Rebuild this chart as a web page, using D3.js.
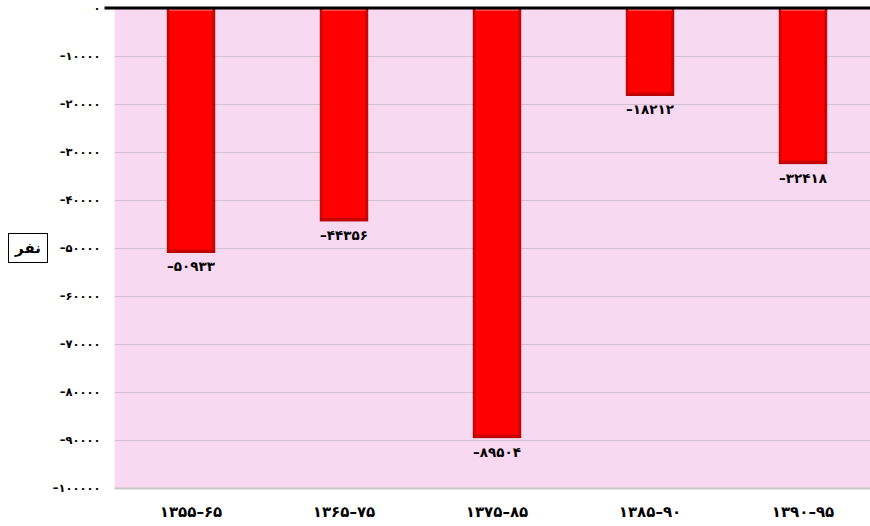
<!DOCTYPE html>
<html>
<head>
<meta charset="utf-8">
<script src="https://cdn.jsdelivr.net/npm/d3@7/dist/d3.min.js"></script>
<style>
  html, body { margin: 0; padding: 0; background: #ffffff; }
  svg { display: block; }
</style>
</head>
<body>
<svg id="chart" width="870" height="526"></svg>
<script>
// Periods and net change (persons) for each period
const periods = ["۱۳۵۵–۶۵", "۱۳۶۵–۷۵", "۱۳۷۵–۸۵", "۱۳۸۵–۹۰", "۱۳۹۰–۹۵"];
const values = [-50933, -44356, -89504, -18212, -32418];
const yTicks = [0, -10000, -20000, -30000, -40000, -50000, -60000, -70000, -80000, -90000, -100000];
const yTitle = "نفر";

const faDigits = "۰۱۲۳۴۵۶۷۸۹";
const toFa = s => String(s).replace(/[0-9]/g, d => faDigits[+d]);
const fmt = v => (v < 0 ? "–" : "") + toFa(Math.abs(v));

const svg = d3.select("#chart");
const font = "'DejaVu Sans', sans-serif";

const plot = { left: 114.5, right: 879.5, top: 8, bottom: 488 };

const x = d3.scaleBand()
  .domain(periods)
  .range([plot.left, plot.right])
  .paddingInner(0.69)
  .paddingOuter(0.345);

const y = d3.scaleLinear()
  .domain([0, -100000])
  .range([plot.top, plot.bottom]);

// plot background
svg.append("rect")
  .attr("x", plot.left).attr("y", plot.top)
  .attr("width", plot.right - plot.left).attr("height", plot.bottom - plot.top)
  .attr("fill", "#f7d9f1");

// horizontal gridlines
svg.append("g")
  .selectAll("line")
  .data(yTicks.filter(t => t !== 0))
  .join("line")
  .attr("x1", plot.left).attr("x2", plot.right)
  .attr("y1", d => y(d) + 0.5).attr("y2", d => y(d) + 0.5)
  .attr("stroke", d => d === -100000 ? "#c8c8c8" : "#d2bfd0")
  .attr("stroke-width", d => d === -100000 ? 2 : 1);

// y axis tick labels
const yAxis = d3.axisLeft(y)
  .tickValues(yTicks)
  .tickSize(0)
  .tickPadding(0)
  .tickFormat(fmt);
const ga = svg.append("g")
  .attr("transform", `translate(${plot.left - 14},0)`)
  .call(yAxis);
ga.select(".domain").remove();
ga.selectAll("text")
  .attr("font-family", font)
  .attr("font-size", 11.5)
  .attr("font-weight", "bold")
  .attr("fill", "#000")
  .attr("direction", "ltr");

// bars
const barG = svg.append("g");
const bars = barG.selectAll("g.bar")
  .data(values.map((v, i) => ({ p: periods[i], v })))
  .join("g")
  .attr("class", "bar");

bars.append("rect")
  .attr("x", d => x(d.p))
  .attr("y", y(0))
  .attr("width", x.bandwidth())
  .attr("height", d => y(d.v) - y(0))
  .attr("fill", "#ff0000")
  .attr("stroke", "#9e0000")
  .attr("stroke-width", 1);

// bevel: dark side and bottom edges, light top edge
bars.append("rect")
  .attr("x", d => x(d.p) + 0.5)
  .attr("y", d => y(d.v) - 3)
  .attr("width", x.bandwidth() - 1)
  .attr("height", 3)
  .attr("fill", "#c80000");
bars.append("rect")
  .attr("x", d => x(d.p) + x.bandwidth() - 2.5)
  .attr("y", y(0))
  .attr("width", 2)
  .attr("height", d => y(d.v) - y(0) - 3)
  .attr("fill", "#d40000");
bars.append("rect")
  .attr("x", d => x(d.p) + 0.5)
  .attr("y", y(0))
  .attr("width", 1.5)
  .attr("height", d => y(d.v) - y(0) - 3)
  .attr("fill", "#d80000");
bars.append("rect")
  .attr("x", d => x(d.p) + 2)
  .attr("y", y(0) + 1)
  .attr("width", x.bandwidth() - 4)
  .attr("height", 2)
  .attr("fill", "#ff5050");

// value labels under each bar
bars.append("text")
  .attr("x", d => x(d.p) + x.bandwidth() / 2)
  .attr("y", d => y(d.v) + 19)
  .attr("text-anchor", "middle")
  .attr("direction", "ltr")
  .attr("font-family", font)
  .attr("font-size", 13.5)
  .attr("font-weight", "bold")
  .attr("fill", "#000")
  .text(d => fmt(d.v));

// zero line across the top
svg.append("line")
  .attr("x1", plot.left - 10).attr("x2", 870)
  .attr("y1", y(0)).attr("y2", y(0))
  .attr("stroke", "#000")
  .attr("stroke-width", 3);

// x axis labels
const xAxis = d3.axisBottom(x).tickSize(0).tickPadding(0);
const gx = svg.append("g")
  .attr("transform", `translate(0,${plot.bottom + 18})`)
  .call(xAxis);
gx.select(".domain").remove();
gx.selectAll("text")
  .attr("font-family", font)
  .attr("font-size", 15)
  .attr("font-weight", "bold")
  .attr("fill", "#000")
  .attr("direction", "ltr");

// y axis title in a box
svg.append("rect")
  .attr("x", 8.5).attr("y", 233.5)
  .attr("width", 39).attr("height", 29)
  .attr("fill", "#fff")
  .attr("stroke", "#000")
  .attr("stroke-width", 1);
svg.append("text")
  .attr("x", 28).attr("y", 253)
  .attr("text-anchor", "middle")
  .attr("font-family", font)
  .attr("font-size", 15)
  .attr("font-weight", "bold")
  .attr("fill", "#000")
  .text(yTitle);
</script>
</body>
</html>
